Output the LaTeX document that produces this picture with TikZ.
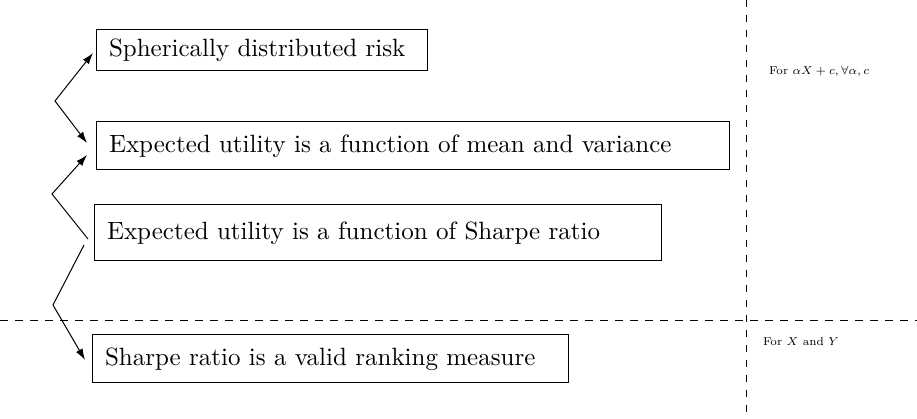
\documentclass[tikz,border=0pt]{standalone}
\usetikzlibrary{arrows.meta}

\begin{document}
\begin{tikzpicture}[x=4pt, y=-4pt]
\tikzset{ >={Latex[length=4.5pt,width=3pt]}, box/.style={draw, anchor=west, align=left, inner xsep=5pt, inner ysep=0pt} }

\useasboundingbox (0,0) rectangle (91.7,41.9);

%\draw [lightgray, dashed](0,0) grid (91.7,41.9);

\draw [dashed] (74.6,0) -- (74.6,41.9);
\draw [dashed] (0,32.1) -- (91.7,32.1);

\node [box, text width=122.4pt, minimum height=16.4pt] (S) at (9.6,5.05)  {Spherically distributed risk};
\node [box, text width=243.2pt, minimum height=19.2pt] (M) at (9.6,14.6)  {Expected utility is a function of mean and variance};
\node [box, text width=216.8pt, minimum height=22.4pt] (E) at (9.4,23.3)  {Expected utility is a function of Sharpe ratio};
\node [box, text width=180.4pt, minimum height=19.2pt] (R) at (9.2,35.9)  {Sharpe ratio is a valid ranking measure};

\coordinate (k1) at (5.5,10.1);
\coordinate (k2) at (5.2,19.4);
\coordinate (k3) at (5.3,30.5);

\draw [<->] ([shift={(-0.3,0.25)}]S.west) -- (k1) -- ([shift={(-0.9,-0.3)}]M.west);
\draw [->]  ([shift={(-0.6,0.6)}]E.west)  -- (k2) -- ([shift={(-0.9,0.9)}]M.west);
\draw [->]  ([shift={(-1.0,1.2)}]E.west)  -- (k3) -- ([shift={(-0.7,0.1)}]R.west);

\node [anchor=west, inner xsep=1pt] (A) at (76.6,7.2)  {\scalebox{0.66}{\scriptsize For $\alpha X+c, \forall\alpha, c$}};
\node [anchor=west, inner xsep=1pt] (B) at (76.0,34.2) {\scalebox{0.66}{\scriptsize For $X$ and $Y$}};

\end{tikzpicture}
\end{document}
